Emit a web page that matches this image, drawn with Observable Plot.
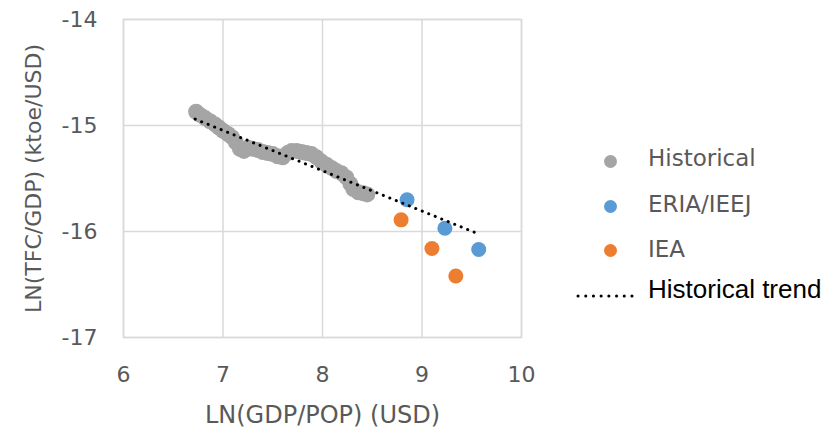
<!DOCTYPE html>
<html>
<head>
<meta charset="utf-8">
<script src="https://cdn.jsdelivr.net/npm/d3@7"></script>
<script src="https://cdn.jsdelivr.net/npm/@observablehq/plot@0.6"></script>
<style>
  html, body { margin: 0; padding: 0; background: #fff; }
  #wrap { position: relative; width: 829px; height: 432px; }
  #legend { position: absolute; left: 0; top: 0; width: 829px; height: 432px; pointer-events: none; }
  .li { position: absolute; font-family: "DejaVu Sans", Verdana, sans-serif; font-size: 23px; line-height: 28px; color: #595959; white-space: nowrap; }
  .li.trend { font-family: "Liberation Sans", Arial, sans-serif; font-size: 26px; color: #000; }
  .dot { position: absolute; width: 13px; height: 13px; border-radius: 50%; }
</style>
</head>
<body>
<div id="wrap"><div id="chart"></div><div id="legend"></div></div>
<script>
// Historical (LN(GDP/POP), LN(TFC/GDP))
const histX = [6.73, 6.77, 6.82, 6.87, 6.92, 6.96, 7.00, 7.05, 7.09, 7.13, 7.17, 7.21, 7.25, 7.30, 7.35, 7.40, 7.45, 7.50, 7.55, 7.60, 7.65, 7.69, 7.74, 7.79, 7.84, 7.89, 7.94, 7.99, 8.04, 8.09, 8.14, 8.19, 8.24, 8.28, 8.31, 8.36, 8.41, 8.45];
const histY = [-14.87, -14.90, -14.93, -14.96, -14.99, -15.02, -15.05, -15.08, -15.11, -15.16, -15.22, -15.24, -15.21, -15.22, -15.23, -15.25, -15.26, -15.27, -15.29, -15.30, -15.26, -15.24, -15.24, -15.25, -15.26, -15.27, -15.30, -15.34, -15.37, -15.40, -15.43, -15.45, -15.49, -15.55, -15.60, -15.63, -15.64, -15.65];
// ERIA/IEEJ projections
const eriaX = [8.85, 9.23, 9.57];
const eriaY = [-15.70, -15.97, -16.17];
// IEA projections
const ieaX = [8.79, 9.10, 9.34];
const ieaY = [-15.89, -16.16, -16.42];
// Historical trend endpoints
const trendX = [6.72, 9.56];
const trendY = [-14.94, -16.02];

const xTicks = [6, 7, 8, 9, 10];
const yTicks = [-14, -15, -16, -17];
const xLabel = "LN(GDP/POP) (USD)";
const yLabel = "LN(TFC/GDP) (ktoe/USD)";
const seriesNames = ["Historical", "ERIA/IEEJ", "IEA", "Historical trend"];
const seriesColors = ["#a5a5a5", "#5b9bd5", "#ed7d31", "#000000"];

const hist = histX.map((x, i) => ({x, y: histY[i]}));
const eria = eriaX.map((x, i) => ({x, y: eriaY[i]}));
const iea = ieaX.map((x, i) => ({x, y: ieaY[i]}));
const trend = trendX.map((x, i) => ({x, y: trendY[i]}));

const axisFont = "DejaVu Sans, Verdana, sans-serif";

const chart = Plot.plot({
  width: 829,
  height: 432,
  marginLeft: 123,
  marginRight: 308,
  marginTop: 19,
  marginBottom: 95,
  style: {fontFamily: axisFont, color: "#595959", background: "transparent", overflow: "visible"},
  x: {domain: [6, 10]},
  y: {domain: [-17, -14]},
  marks: [
    Plot.gridX(xTicks, {stroke: "#d9d9d9", strokeOpacity: 1, strokeWidth: 1.5}),
    Plot.gridY(yTicks, {stroke: "#d9d9d9", strokeOpacity: 1, strokeWidth: 1.5}),
    Plot.frame({stroke: "#d9d9d9", strokeWidth: 1.5}),
    Plot.axisX(xTicks, {tickSize: 0, tickPadding: 29, fontSize: 22, label: null, fill: "#595959"}),
    Plot.axisY(yTicks, {tickSize: 0, tickPadding: 26, fontSize: 22, label: null, fill: "#595959", tickFormat: d => d < 0 ? "-" + Math.abs(d) : String(d)}),
    Plot.text([xLabel], {frameAnchor: "bottom", lineAnchor: "middle", textAnchor: "middle", dy: 78, text: d => d, fontSize: 24, fill: "#595959"}),
    Plot.text([yLabel], {frameAnchor: "left", lineAnchor: "middle", textAnchor: "middle", dx: -90, rotate: -90, text: d => d, fontSize: 22, fill: "#595959"}),
    Plot.dot(hist, {x: "x", y: "y", r: 8, fill: seriesColors[0], stroke: "none"}),
    Plot.dot(eria, {x: "x", y: "y", r: 7.5, fill: seriesColors[1], stroke: "none"}),
    Plot.dot(iea, {x: "x", y: "y", r: 7.5, fill: seriesColors[2], stroke: "none"}),
    Plot.line(trend, {x: "x", y: "y", stroke: seriesColors[3], strokeWidth: 3, strokeDasharray: "0.1 6.9", strokeLinecap: "round"})
  ]
});
document.getElementById("chart").appendChild(chart);

// Legend
const legend = document.getElementById("legend");
const textRows = [158, 204, 249, 289];
const markRows = [161, 206, 250, 296];
seriesNames.forEach((name, i) => {
  if (i < 3) {
    const d = document.createElement("div");
    d.className = "dot";
    d.style.left = (610 - 6.5) + "px";
    d.style.top = (markRows[i] - 6.5) + "px";
    d.style.background = seriesColors[i];
    legend.appendChild(d);
  } else {
    const ns = "http://www.w3.org/2000/svg";
    const s = document.createElementNS(ns, "svg");
    s.setAttribute("width", 60); s.setAttribute("height", 10);
    s.style.position = "absolute"; s.style.left = "575px"; s.style.top = (markRows[i] - 5) + "px";
    const l = document.createElementNS(ns, "line");
    l.setAttribute("x1", 3); l.setAttribute("x2", 57); l.setAttribute("y1", 5); l.setAttribute("y2", 5);
    l.setAttribute("stroke", "#000"); l.setAttribute("stroke-width", 3);
    l.setAttribute("stroke-dasharray", "0.1 7.6"); l.setAttribute("stroke-linecap", "round");
    s.appendChild(l);
    legend.appendChild(s);
  }
  const t = document.createElement("div");
  t.className = i === 3 ? "li trend" : "li";
  t.textContent = name;
  t.style.left = "648px";
  t.style.top = (textRows[i] - 14) + "px";
  legend.appendChild(t);
});
</script>
</body>
</html>
